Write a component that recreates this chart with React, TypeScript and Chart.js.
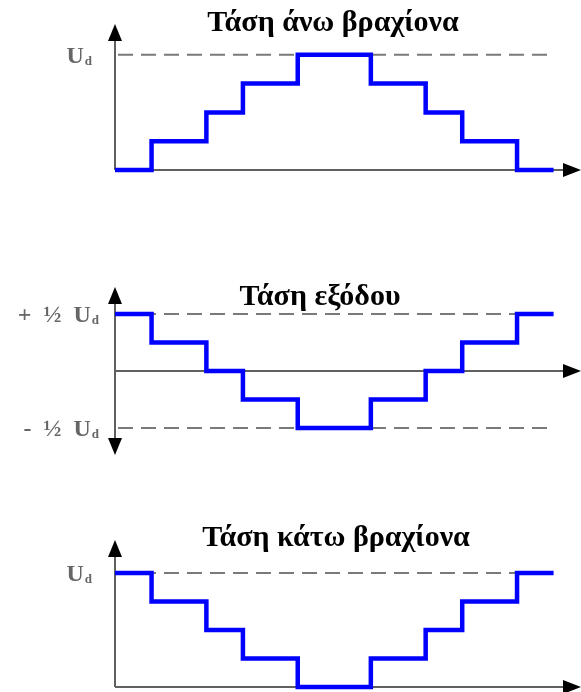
import React, { useEffect, useRef } from 'react';
import { Chart, registerables } from 'chart.js';

Chart.register(...registerables);

// ---- data ----
const stepTimes = [0, 2, 5, 7, 10, 14, 17, 19, 22, 24];
const upperArmLevels = [0, 1, 2, 3, 4, 3, 2, 1, 0, 0];
const outputLevels = [2, 1, 0, -1, -2, -1, 0, 1, 2, 2];
const lowerArmLevels = [4, 3, 2, 1, 0, 1, 2, 3, 4, 4];

const panelTitles = ['Τάση άνω βραχίονα', 'Τάση εξόδου', 'Τάση κάτω βραχίονα'];

const upperRefLevels = [4];
const upperRefLabels = ['U'];
const outputRefLevels = [2, -2];
const outputRefLabels = ['+  ½  U', '-  ½  U'];
const lowerRefLevels = [4];
const lowerRefLabels = ['U'];
const refSubscript = 'd';

const xMin = 0;
const xMax = 25.5;
const dashEnd = 23.7;

type Panel = {
  levels: number[];
  title: string;
  refLevels: number[];
  refLabels: string[];
  top: number;
  height: number;
  padTop: number;
  padBottom: number;
  yMin: number;
  yMax: number;
  bidirectional: boolean;
  titleX: number;
  titleY: number;
  labelRight: number;
};

const panels: Panel[] = [
  {
    levels: upperArmLevels, title: panelTitles[0], refLevels: upperRefLevels, refLabels: upperRefLabels,
    top: 0, height: 200, padTop: 24, padBottom: 30, yMin: 0, yMax: 5.07, bidirectional: false,
    titleX: 333, titleY: 31, labelRight: 91,
  },
  {
    levels: outputLevels, title: panelTitles[1], refLevels: outputRefLevels, refLabels: outputRefLabels,
    top: 270, height: 200, padTop: 17, padBottom: 15, yMin: -2.95, yMax: 2.95, bidirectional: true,
    titleX: 320, titleY: 35, labelRight: 98,
  },
  {
    levels: lowerArmLevels, title: panelTitles[2], refLevels: lowerRefLevels, refLabels: lowerRefLabels,
    top: 510, height: 182, padTop: 30, padBottom: 5, yMin: 0, yMax: 5.16, bidirectional: false,
    titleX: 336, titleY: 36, labelRight: 91,
  },
];

function makePlugin(p: Panel) {
  return {
    id: 'panelDecor',
    beforeDatasetsDraw(chart: any) {
      const { ctx, chartArea } = chart;
      const { left, right, top, bottom } = chartArea;
      const xs = chart.scales.x;
      const ys = chart.scales.y;
      ctx.save();
      // dashed reference lines
      ctx.setLineDash([15, 8]);
      ctx.strokeStyle = '#7a7a7a';
      ctx.lineWidth = 2;
      p.refLevels.forEach((v) => {
        const yy = ys.getPixelForValue(v);
        ctx.beginPath();
        ctx.moveTo(left + 3, yy);
        ctx.lineTo(xs.getPixelForValue(dashEnd), yy);
        ctx.stroke();
      });
      ctx.setLineDash([]);
      // axes
      const y0 = ys.getPixelForValue(0);
      ctx.strokeStyle = '#606060';
      ctx.lineWidth = 2;
      ctx.beginPath();
      ctx.moveTo(left, y0);
      ctx.lineTo(right - 14, y0);
      ctx.stroke();
      ctx.beginPath();
      ctx.moveTo(left, top + 12);
      ctx.lineTo(left, p.bidirectional ? bottom - 12 : y0);
      ctx.stroke();
      // arrow heads
      ctx.fillStyle = '#000';
      ctx.beginPath();
      ctx.moveTo(left, top);
      ctx.lineTo(left - 7, top + 17);
      ctx.lineTo(left + 7, top + 17);
      ctx.closePath();
      ctx.fill();
      if (p.bidirectional) {
        ctx.beginPath();
        ctx.moveTo(left, bottom);
        ctx.lineTo(left - 7, bottom - 17);
        ctx.lineTo(left + 7, bottom - 17);
        ctx.closePath();
        ctx.fill();
      }
      ctx.beginPath();
      ctx.moveTo(right, y0);
      ctx.lineTo(right - 18, y0 - 7);
      ctx.lineTo(right - 18, y0 + 7);
      ctx.closePath();
      ctx.fill();
      ctx.restore();
    },
    afterDatasetsDraw(chart: any) {
      const { ctx } = chart;
      const ys = chart.scales.y;
      ctx.save();
      // reference labels
      p.refLevels.forEach((v, i) => {
        const yy = ys.getPixelForValue(v);
        const mainFont = 'bold 24px "Liberation Serif", serif';
        const subFont = 'bold 13px "Liberation Serif", serif';
        ctx.font = subFont;
        const sw = ctx.measureText(refSubscript).width;
        ctx.font = mainFont;
        const mw = ctx.measureText(p.refLabels[i]).width;
        const startX = p.labelRight - sw - mw;
        ctx.fillStyle = '#666';
        ctx.textAlign = 'left';
        ctx.textBaseline = 'alphabetic';
        ctx.fillText(p.refLabels[i], startX, yy + 8);
        ctx.font = subFont;
        ctx.fillText(refSubscript, startX + mw + 1, yy + 10);
      });
      // title
      ctx.font = 'bold 30px "Liberation Serif", serif';
      ctx.fillStyle = '#000';
      ctx.textAlign = 'center';
      ctx.textBaseline = 'alphabetic';
      ctx.fillText(p.title, p.titleX, p.titleY);
      ctx.restore();
    },
  };
}

function PanelChart({ p }: { p: Panel }) {
  const ref = useRef<HTMLCanvasElement | null>(null);
  useEffect(() => {
    if (!ref.current) return;
    const points = stepTimes.map((t, i) => ({ x: t, y: p.levels[i] }));
    const chart = new Chart(ref.current, {
      type: 'line',
      data: {
        datasets: [
          {
            data: points,
            stepped: true,
            borderColor: '#0000ff',
            borderWidth: 4.5,
            pointRadius: 0,
            fill: false,
            clip: false as any,
            borderJoinStyle: 'miter',
            borderCapStyle: 'butt',
          } as any,
        ],
      },
      options: {
        animation: false,
        responsive: false,
        devicePixelRatio: 1,
        events: [],
        layout: { padding: { left: 115, right: 0, top: p.padTop, bottom: p.padBottom } },
        plugins: { legend: { display: false }, tooltip: { enabled: false }, title: { display: false } },
        scales: {
          x: { type: 'linear', min: xMin, max: xMax, display: false },
          y: { type: 'linear', min: p.yMin, max: p.yMax, display: false },
        },
      },
      plugins: [makePlugin(p)],
    });
    return () => chart.destroy();
  }, [p]);
  return (
    <canvas
      ref={ref}
      width={581}
      height={p.height}
      style={{ position: 'absolute', left: 0, top: p.top, width: 581, height: p.height }}
    />
  );
}

export default function App() {
  return (
    <div style={{ position: 'absolute', left: 0, top: 0, width: 581, height: 692, background: '#fff' }}>
      {panels.map((p, i) => (
        <PanelChart key={i} p={p} />
      ))}
    </div>
  );
}
